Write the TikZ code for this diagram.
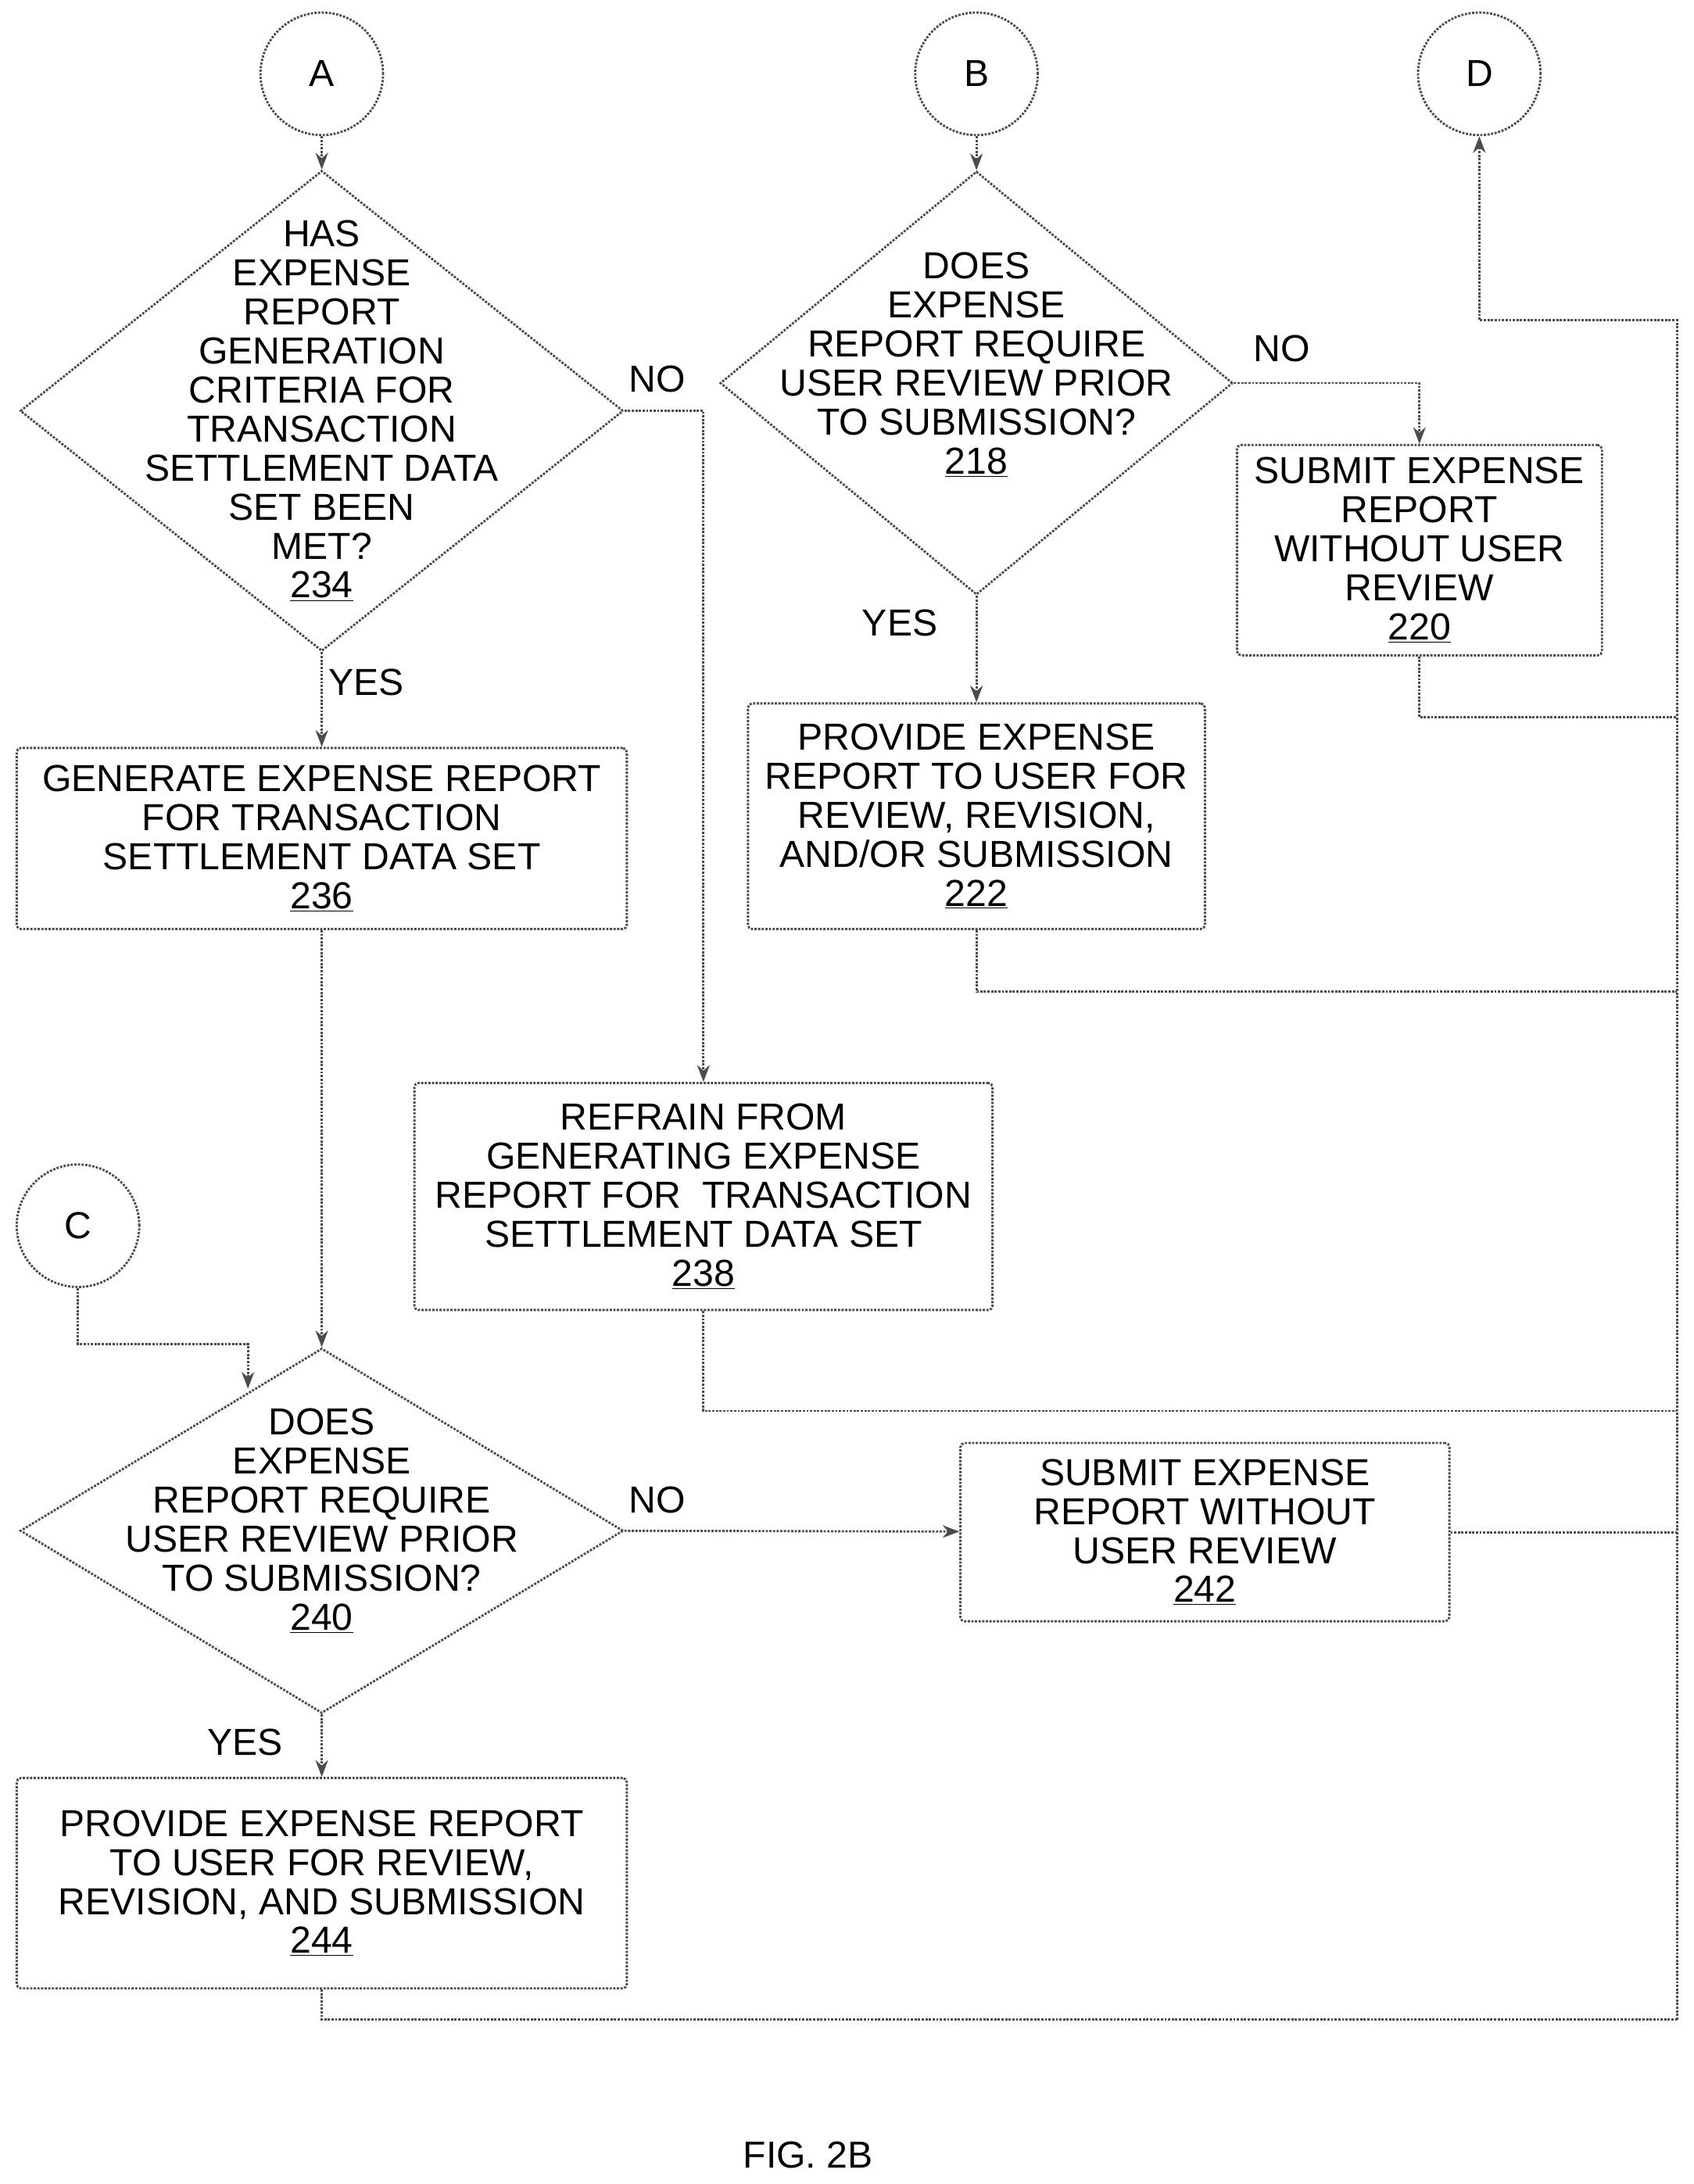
\documentclass[tikz,border=0pt]{standalone}
\usepackage{fontspec}
\setmainfont{Liberation Sans}
\usetikzlibrary{shapes.geometric,arrows.meta}
\begin{document}
\begin{tikzpicture}[x=1pt,y=-1pt,
  every node/.style={font=\fontsize{27}{28}\selectfont, align=center, inner sep=0},
  ln/.style={draw=black!70, line width=1.6pt, densely dotted},
  box/.style={ln, rectangle, rounded corners=3pt},
  dia/.style={ln, diamond},
  circ/.style={ln, circle, minimum size=88pt},
  arr/.style={ln, -{Stealth[length=12pt,width=9pt]}},
  con/.style={ln}]
\useasboundingbox (0,0) rectangle (1216,1568);
\node[circ] (A) at (231,53) {A};
\node[circ] (B) at (701,53) {B};
\node[circ] (D) at (1062,53) {D};
\node[circ] (C) at (56,880) {C};
\node[dia, minimum width=433pt, minimum height=345pt] (d234) at (231,295) {};
\node at (231,295) {HAS\\EXPENSE\\REPORT\\GENERATION\\CRITERIA FOR\\TRANSACTION\\SETTLEMENT DATA\\SET BEEN\\MET?\\\underline{234}};
\node[box, minimum width=438pt, minimum height=130pt] (b236) at (231,602) {GENERATE EXPENSE REPORT\\FOR TRANSACTION\\SETTLEMENT DATA SET\\\underline{236}};
\node[dia, minimum width=368pt, minimum height=304pt] (d218) at (701,275) {};
\node at (701,262) {DOES\\EXPENSE\\REPORT REQUIRE\\USER REVIEW PRIOR\\TO SUBMISSION?\\\underline{218}};
\node[box, minimum width=262pt, minimum height=151pt] (b220) at (1019,395) {SUBMIT EXPENSE\\REPORT\\WITHOUT USER\\REVIEW\\\underline{220}};
\node[box, minimum width=328pt, minimum height=162pt] (b222) at (701,586) {PROVIDE EXPENSE\\REPORT TO USER FOR\\REVIEW, REVISION,\\AND/OR SUBMISSION\\\underline{222}};
\node[box, minimum width=415pt, minimum height=163pt] (b238) at (505,859) {REFRAIN FROM\\GENERATING EXPENSE\\REPORT FOR\ \ TRANSACTION\\SETTLEMENT DATA SET\\\underline{238}};
\node[dia, minimum width=433pt, minimum height=262pt] (d240) at (231,1099) {};
\node at (231,1092) {DOES\\EXPENSE\\REPORT REQUIRE\\USER REVIEW PRIOR\\TO SUBMISSION?\\\underline{240}};
\node[box, minimum width=351pt, minimum height=128pt] (b242) at (865,1100) {SUBMIT EXPENSE\\REPORT WITHOUT\\USER REVIEW\\\underline{242}};
\node[box, minimum width=438pt, minimum height=151pt] (b244) at (231,1352) {PROVIDE EXPENSE REPORT\\TO USER FOR REVIEW,\\REVISION, AND SUBMISSION\\\underline{244}};
% labels
\node at (472,272) {NO};
\node at (920,250) {NO};
\node at (472,1077) {NO};
\node at (263,490) {YES};
\node at (646,447) {YES};
\node at (176,1251) {YES};
\node at (580,1547) {FIG. 2B};
% connectors
\coordinate (R) at (1204,1450);
\draw[arr] (A) -- (d234.north);
\draw[arr] (B) -- (d218.north);
\draw[arr] (d234.south) -- (b236);
\draw[arr] (d234.east) -| (b238.north);
\draw[arr] (d218.east) -| (b220.north);
\draw[arr] (d218.south) -- (b222);
\draw[arr] (b236) -- (d240.north);
\draw[arr] (C.south) |- (178,965) -- (178,997);
\draw[arr] (d240.east) -- (b242);
\draw[arr] (d240.south) -- (b244);
\draw[con] (b244.south) |- (R);
\draw[arr] (R) -- (1204,230) -| (D.south);
\draw[con] (b220.south) |- (1204,515);
\draw[con] (b222.south) |- (1204,712);
\draw[con] (b238.south) |- (1204,1013);
\draw[con] (b242.east) -- (1204,1100);
\end{tikzpicture}
\end{document}
